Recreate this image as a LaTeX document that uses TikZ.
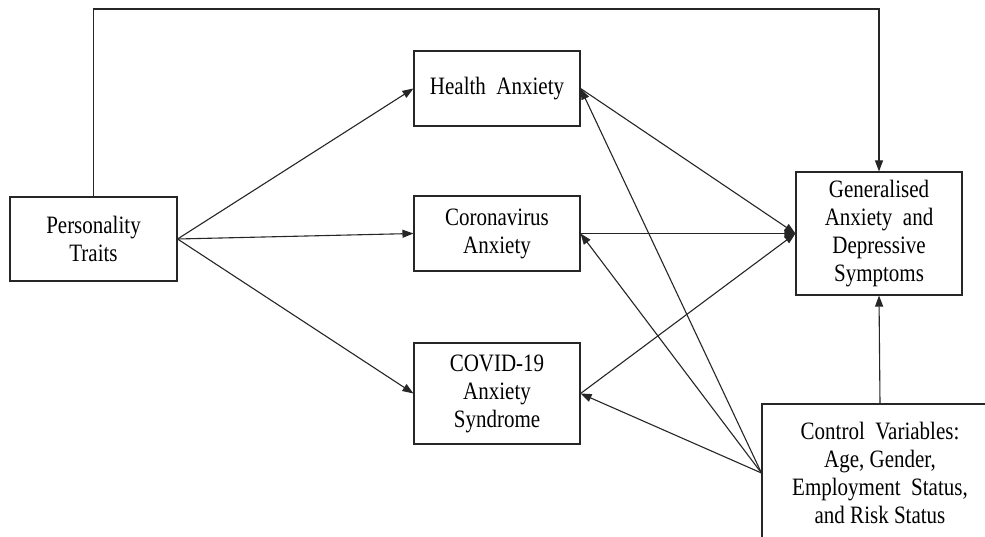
\documentclass[tikz,border=0pt]{standalone}
\usepackage{fontspec}
\setmainfont{Liberation Serif}[FakeStretch=0.84]
\usetikzlibrary{arrows.meta}
\tikzset{
  box/.style={draw=black!85, line width=1.1pt, rectangle, align=center, inner sep=0pt,
    font=\fontsize{25}{28}\selectfont},
  arr/.style={draw=black!85, line width=1.1pt, -{Triangle[length=11pt,width=8pt]}},
  lin/.style={draw=black!85, line width=1.1pt}
}
\begin{document}
\begin{tikzpicture}[x=1pt,y=-1pt]
\clip (0,0) rectangle (985,537);
\fill[white] (0,0) rectangle (985,537);
\node[box, minimum width=167pt, minimum height=84pt] (pt) at (93.5,239) {Personality\\Traits};
\node[box, minimum width=166pt, minimum height=75pt] (ha) at (497,88.5) {Health\ \ Anxiety};
\node[box, minimum width=166pt, minimum height=75pt] (ca) at (497,233.5) {Coronavirus\\Anxiety};
\node[box, minimum width=166pt, minimum height=101pt] (cs) at (497,393.5) {COVID-19\\Anxiety\\Syndrome};
\node[box, minimum width=166pt, minimum height=123pt] (ga) at (879,233.5) {Generalised\\Anxiety\ \ and\\Depressive\\Symptoms};
\node[box, minimum width=236pt, minimum height=138pt] (cv) at (880,473) {Control\ \ Variables:\\Age,\ Gender,\\Employment\ \ Status,\\and Risk Status};
\coordinate (top1) at (pt.north |- 0,9);
\coordinate (top2) at (ga.north |- 0,9);
\draw[arr] (pt.north) -- (top1) -- (top2) -- (ga.north);
\draw[arr] (pt.east) -- (ha.west);
\draw[arr] (pt.east) -- (ca.west);
\draw[arr] (pt.east) -- (cs.west);
\draw[arr] (ha.east) -- (ga.west);
\draw[arr] (ca.east) -- (ga.west);
\draw[arr] (cs.east) -- (ga.west);
\draw[arr] (cv.west) -- (ha.east);
\draw[arr] (cv.west) -- (ca.east);
\draw[arr] (cv.west) -- (cs.east);
\draw[arr] (cv.north) -- (ga.south);
\end{tikzpicture}
\end{document}
